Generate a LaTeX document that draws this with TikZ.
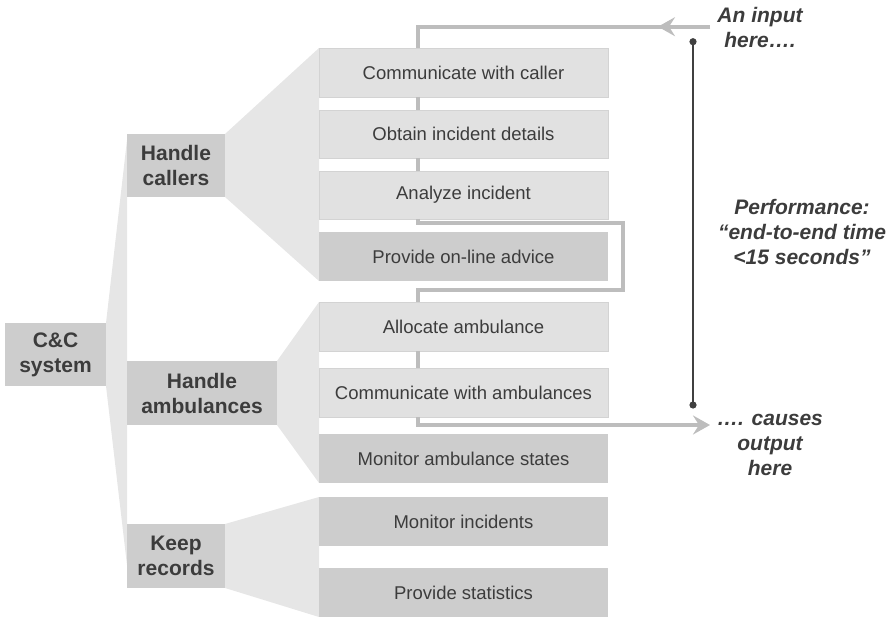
\documentclass[tikz,border=0pt]{standalone}
\usepackage{fontspec}
\setmainfont{Liberation Sans}
\usetikzlibrary{arrows.meta,calc}
\pgfdeclarelayer{bg}
\pgfsetlayers{bg,main}
\definecolor{lightfill}{HTML}{E1E1E1}
\definecolor{lightedge}{HTML}{D3D3D3}
\definecolor{darkfill}{HTML}{CDCDCD}
\definecolor{fanfill}{HTML}{E6E6E6}
\definecolor{flowgray}{HTML}{BDBDBD}
\definecolor{txt}{HTML}{3C3C3C}
\definecolor{measgray}{HTML}{404040}
\tikzset{
  x=1pt, y=-1pt,
  base/.style={inner sep=0pt, outer sep=0pt, text=txt, align=center},
  lbox/.style={base, fill=lightfill, draw=lightedge, line width=0.9pt,
    minimum width=289pt, font=\fontsize{18.5}{22}\selectfont},
  dbox/.style={base, fill=darkfill, minimum width=289pt,
    font=\fontsize{18.5}{22}\selectfont},
  group/.style={base, fill=darkfill, font=\fontsize{21}{25}\selectfont\bfseries},
  note/.style={base, font=\fontsize{21}{25}\selectfont\bfseries\itshape},
  fan/.style={fill=fanfill},
  flow/.style={draw=flowgray, line width=4pt},
  flowtip/.style={-{Stealth[length=17pt, width=19pt, inset=6pt]}},
  meas/.style={draw=measgray, line width=1.4pt},
}
\begin{document}
\begin{tikzpicture}
\useasboundingbox (0,0) rectangle (893,617);

% activity boxes
\node[lbox, minimum height=49pt] (c1) at (463.5,72.5) {Communicate with caller};
\node[lbox, minimum height=48pt] (c2) at (463.5,134) {Obtain incident details};
\node[lbox, minimum height=48pt] (c3) at (463.5,195) {Analyze incident};
\node[dbox, minimum height=49pt] (c4) at (463.5,256.5) {Provide on-line advice};
\node[lbox, minimum height=49pt] (a1) at (463.5,326.5) {Allocate ambulance};
\node[lbox, minimum height=49pt] (a2) at (463.5,392.5) {Communicate with ambulances};
\node[dbox, minimum height=49pt] (a3) at (463.5,458.5) {Monitor ambulance states};
\node[dbox, minimum height=49pt] (r1) at (463.5,521.5) {Monitor incidents};
\node[dbox, minimum height=49pt] (r2) at (463.5,592.5) {Provide statistics};

% group boxes
\node[group, minimum width=98pt, minimum height=63pt] (hc) at (176,165.5) {Handle\\callers};
\node[group, minimum width=150pt, minimum height=64pt] (ha) at (202,393) {Handle\\ambulances};
\node[group, minimum width=98pt, minimum height=64pt] (kr) at (176,556) {Keep\\records};
\node[group, minimum width=101pt, minimum height=63pt] (cc) at (55.5,354.5) {C\&C\\system};

% fans
\begin{pgfonlayer}{bg}
\fill[fan] (cc.north east) -- ($(hc.north west)+(0,6)$) -- ($(kr.north west)+(0,41)$) -- (cc.south east) -- cycle;
\fill[fan] (hc.north east) -- (c1.north west) -- (c4.south west) -- (hc.south east) -- cycle;
\fill[fan] (ha.north east) -- (a1.north west) -- (a3.south west) -- (ha.south east) -- cycle;
\fill[fan] (kr.north east) -- (r1.north west) -- (r2.south west) -- (kr.south east) -- cycle;
\end{pgfonlayer}

% flow line
\coordinate (fx) at (418,0);
\coordinate (in) at (710,26.7);
\coordinate (intip) at (658,26.7);
\coordinate (loopT) at (622.5,223);
\coordinate (loopB) at (622.5,290.5);
\coordinate (out) at (710,425);
\draw[flow] (in) -- (fx |- in) -- (fx |- c1.north);
\draw[flow, flowtip] (in) -- (intip);
\draw[flow] (fx |- c1.south) -- (fx |- c2.north);
\draw[flow] (fx |- c2.south) -- (fx |- c3.north);
\draw[flow] (fx |- c3.south) |- (loopT) -- (loopB) -| (fx |- a1.north);
\draw[flow] (fx |- a1.south) -- (fx |- a2.north);
\draw[flow, flowtip] (fx |- a2.south) |- (out);

% measurement
\coordinate (m1) at (693,41.7);
\coordinate (m2) at (693,405);
\draw[meas] (m1) -- (m2);
\fill[measgray] (m1) circle (3.6);
\fill[measgray] (m2) circle (3.6);

% notes
\node[note] (ninput) at (760,27) {An input\\here….};
\node[note] (nperf) at (802,232) {Performance:\\“end-to-end time\\<15 seconds”};
\node[note] (nout) at (770,445) {…. causes\\output\\here};
\end{tikzpicture}
\end{document}
